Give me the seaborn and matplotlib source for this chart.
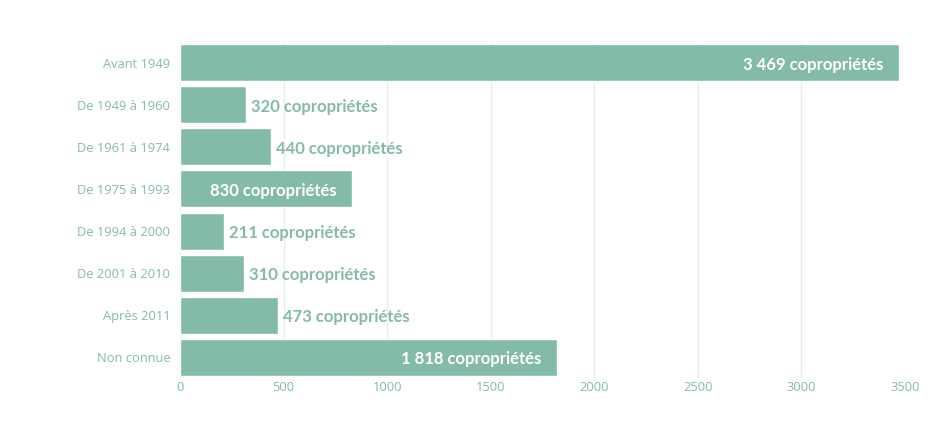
import matplotlib
matplotlib.use("Agg")
import matplotlib.pyplot as plt
import seaborn as sns
import pandas as pd

categories = ['Avant 1949', 'De 1949 à 1960', 'De 1961 à 1974', 'De 1975 à 1993',
              'De 1994 à 2000', 'De 2001 à 2010', 'Après 2011', 'Non connue']
values = [3469, 320, 440, 830, 211, 310, 473, 1818]
value_labels = ['3 469', '320', '440', '830', '211', '310', '473', '1 818']
inside = [True, False, False, True, False, False, False, True]

green = '#84bba6'

sns.set_style('white')
plt.rcParams['font.family'] = ['Open Sans', 'DejaVu Sans']

df = pd.DataFrame({'periode': categories, 'nb': values})

fig = plt.figure(figsize=(9.35, 4.37), dpi=100)
ax = fig.add_axes([0.1925, 0.134, 0.7754, 0.771])

sns.barplot(data=df, x='nb', y='periode', color=green, saturation=1,
            width=0.88, ax=ax, zorder=2)

ax.set_xlim(0, 3500)
ax.set_xticks(range(0, 3501, 500))
ax.grid(axis='x', color='#e6efec', linewidth=1, zorder=0)
ax.set_axisbelow(True)
for s in ax.spines.values():
    s.set_visible(False)
ax.set_xlabel('')
ax.set_ylabel('')
ax.tick_params(axis='both', colors=green, labelsize=9.3, length=0)
ax.tick_params(axis='y', pad=7)
ax.tick_params(axis='x', pad=2)

for i, (v, lab, ins) in enumerate(zip(values, value_labels, inside)):
    txt = lab + ' copropriétés'
    if ins:
        ax.text(v - 75, i + 0.05, txt, ha='right', va='center', color='white',
                fontsize=12, fontweight='bold', family=['Lato', 'DejaVu Sans'])
    else:
        ax.text(v + 25, i + 0.05, txt, ha='left', va='center', color=green,
                fontsize=12, fontweight='bold', family=['Lato', 'DejaVu Sans'])

fig.savefig('out.png', dpi=100)
